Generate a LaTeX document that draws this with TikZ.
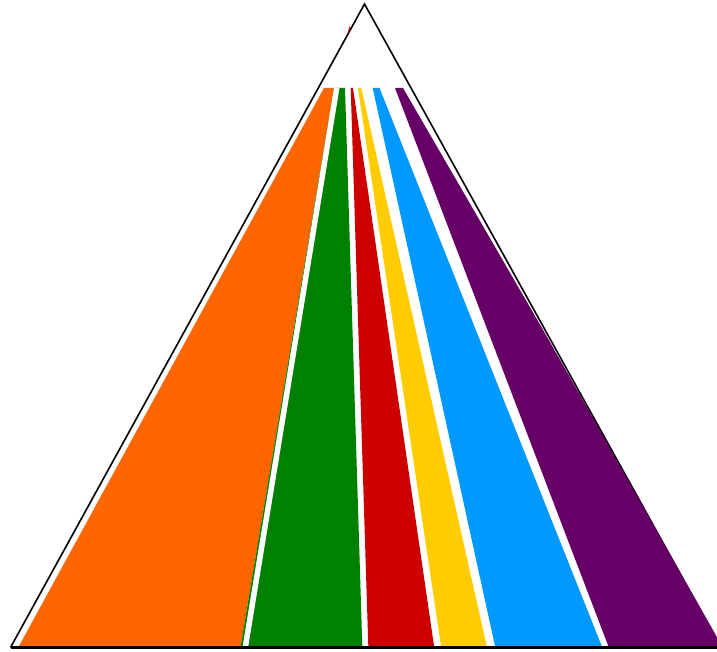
\documentclass[tikz,border=0pt]{standalone}
\usepackage{tikz}

\definecolor{bandorange}{HTML}{FF6600}
\definecolor{bandgreen}{HTML}{008000}
\definecolor{bandred}{HTML}{CC0000}
\definecolor{bandyellow}{HTML}{FFCC00}
\definecolor{bandblue}{HTML}{0099FF}
\definecolor{bandpurple}{HTML}{660066}

\begin{document}
\begin{tikzpicture}[
    x=1pt, y=-1pt,
    band/.style={fill=#1, draw=none},
    gap/.style={fill=white, draw=none},
    edge/.style={draw=black, line width=1.6pt, line join=miter},
    ground/.style={draw=black, line width=3.4pt},
  ]
    \useasboundingbox (0,0) rectangle (717,652);

    % triangle corners
    \coordinate (apex)  at (364.5,4);
    \coordinate (left)  at (10.5,647.5);
    \coordinate (right) at (721,647.5);
    \draw[edge] (left) -- (apex) -- (right);

    % colour bands, top at y=88
    \fill[band=bandorange] (324,88) -- (334,88) -- (240.7,646) -- (19,646) -- cycle;
    \fill[band=bandgreen]  (334,88) -- (345,88) -- (362.3,646) -- (240.7,646) -- cycle;
    \fill[gap]             (334,88) -- (339.5,88) -- (248.3,646) -- (242.7,646) -- cycle;
    \fill[band=bandred]    (350.7,88) -- (353,88) -- (434,646) -- (368.3,646) -- cycle;
    \fill[band=bandyellow] (358,88) -- (361.3,88) -- (486.7,646) -- (441,646) -- cycle;
    \fill[band=bandblue]   (372.7,88) -- (379.5,88) -- (601.7,646) -- (495,646) -- cycle;
    \fill[band=bandpurple] (395,88) -- (403,88) -- (542,328) -- (722,646) -- (608.3,646) -- cycle;

    % small red mark on the left side
    \draw[bandred, line width=1pt] (350,26.5) -- (348,33.5);

    % ground line
    \draw[ground] (left) -- (717,647.5);
\end{tikzpicture}
\end{document}
